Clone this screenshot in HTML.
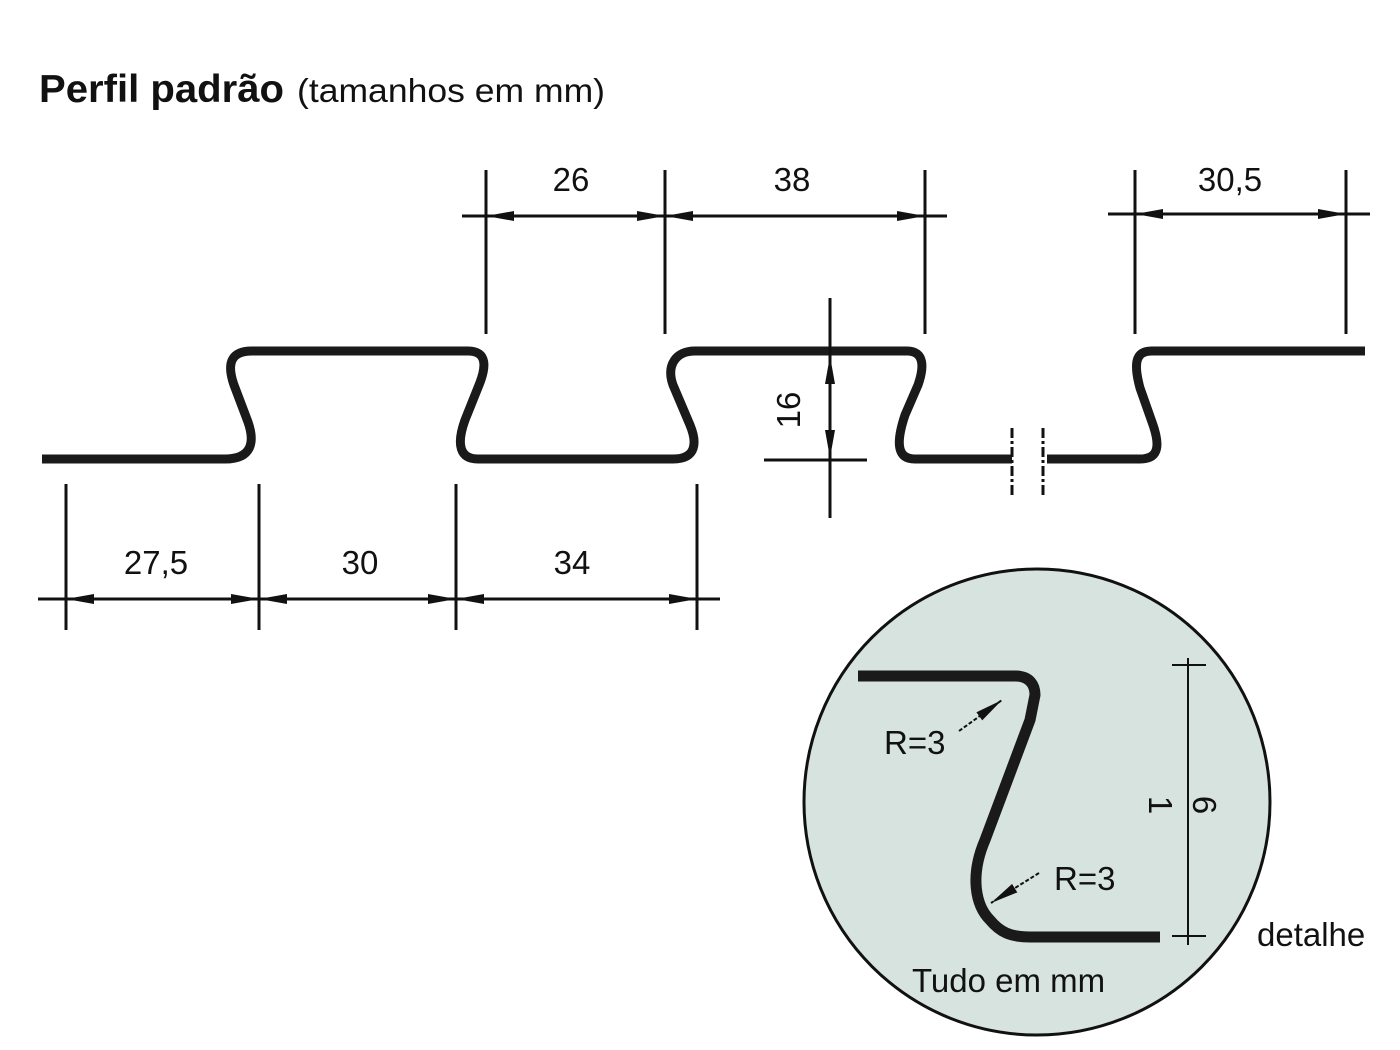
<!DOCTYPE html>
<html><head><meta charset="utf-8"><style>
html,body{margin:0;padding:0;background:#fff;}
svg{display:block;}
text{font-family:"Liberation Sans",Arial,sans-serif;fill:#111;}
</style></head><body>
<svg width="1400" height="1050" viewBox="0 0 1400 1050" xmlns="http://www.w3.org/2000/svg">
<defs>
<marker id="a" viewBox="0 0 28 10" refX="28" refY="5" markerWidth="28" markerHeight="10" markerUnits="userSpaceOnUse" orient="auto-start-reverse"><path d="M0 0 L28 5 L0 10 Z" fill="#111"/></marker>
</defs>
<text x="39" y="102" font-size="39" font-weight="bold" textLength="245" lengthAdjust="spacingAndGlyphs">Perfil padrão</text>
<text x="297" y="102" font-size="33" textLength="308" lengthAdjust="spacingAndGlyphs">(tamanhos em mm)</text>

<g fill="none" stroke="#1a1a1a" stroke-width="9" stroke-linejoin="round">
<path d="M42 459 H225 C252 459 255 442 248 422 L234 385 C226 362 232 351 252 351 H468 C488 351 486 368 479 385 L465 420 C456 445 460 459 478 459 H673 C697 459 697 442 690 425 L673 385 C666 365 676 351 695 351 H907 C925 351 924 368 918 385 L905 415 C895 445 898 459 915 459 H1012"/>
<path d="M1047 459 H1140 C1160 459 1160 444 1152 422 L1140 388 C1133 362 1136 351 1152 351 H1365"/>
</g>
<g stroke="#111" stroke-width="3" stroke-dasharray="10,3,3,3">
<line x1="1012" y1="428" x2="1012" y2="497"/>
<line x1="1043" y1="428" x2="1043" y2="497"/>
</g>

<g stroke="#111" stroke-width="3" fill="none">
<line x1="486" y1="170" x2="486" y2="334"/>
<line x1="665" y1="170" x2="665" y2="334"/>
<line x1="925" y1="170" x2="925" y2="334"/>
<line x1="462" y1="216" x2="486" y2="216"/>
<line x1="925" y1="216" x2="947" y2="216"/>
<line x1="486" y1="216" x2="665" y2="216" marker-start="url(#a)" marker-end="url(#a)"/>
<line x1="665" y1="216" x2="925" y2="216" marker-start="url(#a)" marker-end="url(#a)"/>

<line x1="1135" y1="170" x2="1135" y2="334"/>
<line x1="1346" y1="170" x2="1346" y2="334"/>
<line x1="1108" y1="214" x2="1135" y2="214"/>
<line x1="1346" y1="214" x2="1370" y2="214"/>
<line x1="1135" y1="214" x2="1346" y2="214" marker-start="url(#a)" marker-end="url(#a)"/>

<line x1="66" y1="484" x2="66" y2="630"/>
<line x1="259" y1="484" x2="259" y2="630"/>
<line x1="456" y1="484" x2="456" y2="630"/>
<line x1="697" y1="484" x2="697" y2="630"/>
<line x1="38" y1="599" x2="66" y2="599"/>
<line x1="697" y1="599" x2="720" y2="599"/>
<line x1="66" y1="599" x2="259" y2="599" marker-start="url(#a)" marker-end="url(#a)"/>
<line x1="259" y1="599" x2="456" y2="599" marker-start="url(#a)" marker-end="url(#a)"/>
<line x1="456" y1="599" x2="697" y2="599" marker-start="url(#a)" marker-end="url(#a)"/>

<line x1="830" y1="298" x2="830" y2="356"/>
<line x1="830" y1="455" x2="830" y2="518"/>
<line x1="830" y1="356" x2="830" y2="458" marker-start="url(#a)" marker-end="url(#a)"/>
<line x1="764" y1="460" x2="867" y2="460"/>
</g>
<g font-size="33" text-anchor="middle">
<text x="571" y="191">26</text>
<text x="792" y="191">38</text>
<text x="1230" y="191">30,5</text>
<text x="156" y="574">27,5</text>
<text x="360" y="574">30</text>
<text x="572" y="574">34</text>
<text transform="translate(800,410) rotate(-90)">16</text>
</g>

<circle cx="1037" cy="802" r="233" fill="#d6e3de" stroke="#111" stroke-width="3"/>
<path d="M858 676 H1015 C1030 676 1035 685 1035 695 L1030 720 L985 840 C970 875 975 905 990 920 C1000 932 1010 937 1030 937 H1160" fill="none" stroke="#1a1a1a" stroke-width="11" stroke-linejoin="round"/>
<g stroke="#111" stroke-width="2" fill="none">
<line x1="1188" y1="658" x2="1188" y2="945"/>
<line x1="1172" y1="665" x2="1206" y2="665"/>
<line x1="1172" y1="936" x2="1206" y2="936"/>
<line x1="959" y1="731" x2="1002" y2="700" stroke-dasharray="4,2" marker-end="url(#a)"/>
<line x1="1039" y1="873" x2="991" y2="903" stroke-dasharray="4,2" marker-end="url(#a)"/>
</g>
<g font-size="33">
<text x="884" y="754">R=3</text>
<text x="1054" y="890">R=3</text>
<text x="1257" y="946">detalhe</text>
<text x="912" y="992">Tudo em mm</text>
<text transform="translate(1149,805) rotate(90)" text-anchor="middle">1</text>
<text transform="translate(1193,805) rotate(90)" text-anchor="middle">6</text>
</g>
</svg>
</body></html>
